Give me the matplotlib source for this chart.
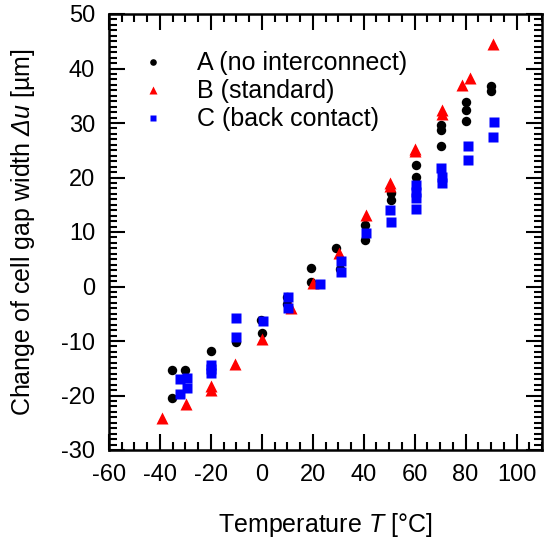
import matplotlib
matplotlib.use("Agg")
import matplotlib.pyplot as plt
from matplotlib.ticker import MultipleLocator

plt.rcParams['font.family'] = ['Liberation Sans', 'DejaVu Sans']
plt.rcParams['axes.unicode_minus'] = False
plt.rcParams['mathtext.fontset'] = 'custom'
plt.rcParams['mathtext.rm'] = 'Liberation Sans'
plt.rcParams['mathtext.it'] = 'Liberation Sans:italic'
plt.rcParams['mathtext.sf'] = 'Liberation Sans:italic'

# Sample A: no interconnect
temp_a = [-35.3, -30.0, -35.3, -20.0, -10.3, 0.0, -0.5, 10.0, 10.0, 19.5, 19.5,
          29.3, 30.5, 40.4, 40.7, 50.6, 50.6, 60.4, 60.4, 70.3, 70.3, 70.3,
          80.3, 80.3, 80.3, 90.0, 90.0]
gap_a = [-15.3, -15.3, -20.5, -11.8, -10.2, -8.6, -6.2, -2.0, -3.3, 3.4, 0.8,
         7.0, 3.3, 11.3, 8.5, 17.1, 15.9, 22.3, 20.1, 29.6, 28.8, 25.7,
         33.9, 32.4, 30.4, 36.7, 35.8]

# Sample B: standard
temp_b = [-39.3, -29.8, -20.0, -20.0, -10.6, 0.1, 11.5, 20.0, 30.2, 40.8,
          50.5, 50.5, 60.3, 60.3, 70.7, 70.7, 78.7, 81.6, 90.7]
gap_b = [-24.2, -21.6, -18.3, -19.0, -14.2, -9.7, -4.0, 0.6, 6.2, 13.1,
         19.0, 18.5, 25.2, 24.8, 32.3, 31.6, 37.0, 38.2, 44.5]

# Sample C: back contact
temp_c = [-32.2, -29.5, -29.5, -32.2, -20.0, -20.0, -20.0, -10.0, -10.0, 0.5,
          10.3, 10.3, 22.7, 30.9, 31.2, 41.0, 50.2, 50.8, 60.4, 60.4, 60.6, 60.6,
          70.2, 70.8, 70.8, 80.9, 80.9, 91.0, 90.6]
gap_c = [-17.0, -16.8, -18.7, -19.7, -14.4, -15.2, -15.9, -5.8, -9.2, -6.3,
         -1.9, -4.0, 0.4, 4.7, 2.7, 9.8, 14.0, 11.9, 18.6, 17.4, 16.2, 14.2,
         21.7, 20.1, 18.9, 25.8, 23.2, 30.1, 27.5]

labels = ['A (no interconnect)', 'B (standard)', 'C (back contact)']

fig = plt.figure(figsize=(5.48, 5.47), dpi=100)
ax = fig.add_axes([109 / 548, 97 / 547, 433 / 548, 436 / 547])

ax.plot(temp_a, gap_a, linestyle='none', marker='o', ms=6.8, color='black',
        mec='none', label=labels[0])
ax.plot(temp_b, gap_b, linestyle='none', marker='^', ms=8.5, color='#ff0000',
        mec='none', label=labels[1])
ax.plot(temp_c, gap_c, linestyle='none', marker='s', ms=6.6, color='#0000ff',
        mec='none', label=labels[2])

ax.set_xlim(-60, 110)
ax.set_ylim(-30, 50)
ax.xaxis.set_major_locator(MultipleLocator(20))
ax.xaxis.set_minor_locator(MultipleLocator(5))
ax.yaxis.set_major_locator(MultipleLocator(10))
ax.yaxis.set_minor_locator(MultipleLocator(1))
ax.set_xticks(range(-60, 101, 20))

ax.tick_params(which='both', direction='in', top=True, right=True,
               width=1.5, labelsize=17, pad=10, color='black')
ax.tick_params(which='major', length=11.5)
ax.tick_params(which='minor', length=5.8)
for sp in ax.spines.values():
    sp.set_linewidth(1.8)

ax.set_xlabel(r'Temperature $\mathsf{T}$ [°C]', fontsize=18)
ax.set_ylabel(r'Change of cell gap width $\mathsf{\Delta u}$ [µm]', fontsize=18)
ax.xaxis.label.set_va('center')
ax.yaxis.label.set_va('center')
ax.xaxis.set_label_coords(0.5, -(525 - 450) / 436)
ax.yaxis.set_label_coords(-(109 - 23) / 433, 0.5)

ax.legend(loc='upper left', bbox_to_anchor=(0.0716, 0.914), frameon=False,
          fontsize=18, markerscale=0.7, handlelength=1.0, handletextpad=1.26,
          borderpad=0, borderaxespad=0, labelspacing=0.16)

fig.savefig('out.png', dpi=100)
